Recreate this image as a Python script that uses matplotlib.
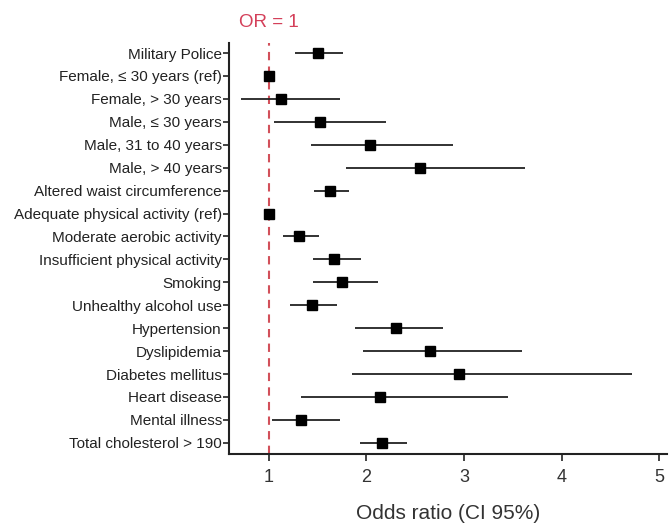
import matplotlib
matplotlib.use("Agg")
import matplotlib.pyplot as plt
import numpy as np

plt.rcParams['font.family'] = ['Liberation Sans', 'DejaVu Sans']

labels = [
    "Military Police",
    "Female, \u2264 30 years (ref)",
    "Female, > 30 years",
    "Male, \u2264 30 years",
    "Male, 31 to 40 years",
    "Male, > 40 years",
    "Altered waist circumference",
    "Adequate physical activity (ref)",
    "Moderate aerobic activity",
    "Insufficient physical activity",
    "Smoking",
    "Unhealthy alcohol use",
    "Hypertension",
    "Dyslipidemia",
    "Diabetes mellitus",
    "Heart disease",
    "Mental illness",
    "Total cholesterol > 190",
]
odds = [1.50, 1.00, 1.12, 1.52, 2.04, 2.55, 1.63, 1.00, 1.31, 1.67, 1.75, 1.44,
        2.30, 2.65, 2.95, 2.14, 1.33, 2.16]
ci_low = [1.27, 1.00, 0.72, 1.05, 1.43, 1.79, 1.46, 1.00, 1.15, 1.45, 1.45, 1.22,
          1.88, 1.96, 1.85, 1.33, 1.03, 1.93]
ci_high = [1.76, 1.00, 1.73, 2.20, 2.89, 3.63, 1.82, 1.00, 1.51, 1.94, 2.12, 1.70,
           2.78, 3.59, 4.72, 3.45, 1.73, 2.42]
xticks = [1, 2, 3, 4, 5]

fig = plt.figure(figsize=(6.69, 5.24), dpi=100)
ax = fig.add_axes([0.342, 0.134, 0.655, 0.784])

y = np.arange(len(labels))
ax.axvline(1, color='#d2505a', linestyle=(0, (4, 3)), linewidth=1.5, zorder=1)
ax.hlines(y, ci_low, ci_high, color='#222222', linewidth=1.3, zorder=2)
ax.plot(odds, y, 's', color='black', markersize=7.3, zorder=3)

ax.set_ylim(len(labels) - 1 + 0.48, -0.44)
ax.set_xlim(0.59, 5.08)
ax.set_yticks(y)
ax.set_yticklabels(labels, fontsize=11, color='#222222')
ax.set_xticks(xticks)
ax.set_xticklabels([str(t) for t in xticks], fontsize=13, color='#333333')
ax.tick_params(axis='y', length=4, width=1.2, pad=1, color='#222222')
ax.tick_params(axis='x', length=5, width=1.2, pad=6, color='#222222')
for s in ['top', 'right']:
    ax.spines[s].set_visible(False)
for s in ['left', 'bottom']:
    ax.spines[s].set_linewidth(1.5)
    ax.spines[s].set_color('#222222')

ax.set_xlabel("Odds ratio (CI 95%)", fontsize=15, color='#333333', labelpad=13)
ax.text(1, -1.35, "OR = 1", color='#d4405a', fontsize=13.5, ha='center', va='center',
        clip_on=False)

fig.savefig("out.png", dpi=100)
